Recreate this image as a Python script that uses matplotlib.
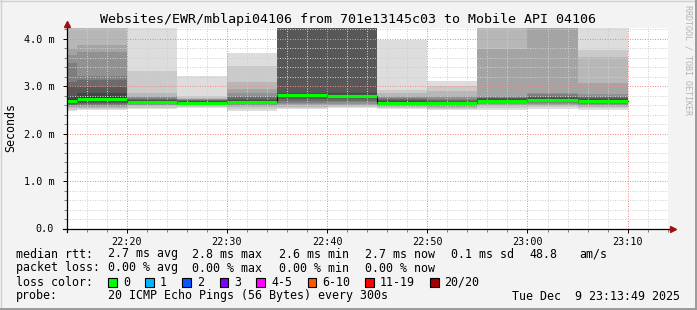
import matplotlib
matplotlib.use("Agg")
import matplotlib.pyplot as plt
import numpy as np
from matplotlib.patches import Rectangle
from matplotlib.lines import Line2D

W, H = 697, 310
MONO = "DejaVu Sans Mono"

# end of each 5 minute step, and the 20 sorted pings of that step (ms)
step_end = ["22:15", "22:20", "22:25", "22:30", "22:35", "22:40",
            "22:45", "22:50", "22:55", "23:00", "23:05", "23:10"]
pings_ms = [
    [2.47, 2.50, 2.53, 2.55, 2.57, 2.59, 2.61, 2.63, 2.65, 2.67, 2.72, 2.80, 3.00, 3.09, 3.49, 3.65, 3.81, 4.40, 4.50, 4.60],
    [2.49, 2.52, 2.54, 2.56, 2.58, 2.60, 2.62, 2.64, 2.67, 2.70, 2.76, 2.85, 2.98, 3.13, 3.22, 3.71, 3.86, 4.40, 4.50, 4.60],
    [2.51, 2.54, 2.57, 2.59, 2.61, 2.62, 2.63, 2.64, 2.65, 2.66, 2.69, 2.70, 2.71, 2.72, 2.74, 2.76, 2.80, 2.86, 3.32, 4.50],
    [2.54, 2.56, 2.58, 2.60, 2.61, 2.62, 2.63, 2.64, 2.645, 2.65, 2.66, 2.68, 2.69, 2.70, 2.71, 2.72, 2.73, 2.75, 2.79, 3.21],
    [2.47, 2.51, 2.55, 2.58, 2.60, 2.62, 2.64, 2.65, 2.66, 2.67, 2.69, 2.71, 2.73, 2.76, 2.80, 2.85, 2.93, 3.09, 3.42, 3.69],
    [2.51, 2.53, 2.56, 2.59, 2.62, 2.65, 2.68, 2.72, 2.77, 2.80, 2.83, 2.85, 4.30, 4.35, 4.40, 4.45, 4.50, 4.55, 4.60, 4.65],
    [2.54, 2.56, 2.58, 2.60, 2.63, 2.66, 2.68, 2.72, 2.75, 2.78, 2.81, 2.85, 4.30, 4.35, 4.40, 4.45, 4.50, 4.55, 4.60, 4.65],
    [2.51, 2.53, 2.55, 2.57, 2.58, 2.60, 2.61, 2.62, 2.63, 2.64, 2.66, 2.68, 2.70, 2.72, 2.74, 2.76, 2.80, 2.85, 2.92, 3.97],
    [2.50, 2.52, 2.54, 2.56, 2.58, 2.59, 2.60, 2.61, 2.62, 2.63, 2.65, 2.67, 2.69, 2.71, 2.73, 2.76, 2.80, 2.90, 3.00, 3.11],
    [2.49, 2.54, 2.57, 2.60, 2.62, 2.64, 2.65, 2.66, 2.67, 2.68, 2.71, 2.73, 2.74, 2.75, 2.76, 2.78, 3.78, 4.40, 4.50, 4.60],
    [2.52, 2.55, 2.58, 2.61, 2.63, 2.65, 2.67, 2.68, 2.69, 2.70, 2.73, 2.75, 2.77, 2.80, 2.83, 2.86, 4.35, 4.40, 4.50, 4.60],
    [2.49, 2.53, 2.56, 2.58, 2.60, 2.62, 2.64, 2.66, 2.67, 2.68, 2.71, 2.73, 2.75, 2.77, 2.80, 2.84, 3.07, 3.62, 3.76, 4.50],
]
median_ms = [2.69, 2.73, 2.67, 2.65, 2.67, 2.82, 2.80, 2.65, 2.64, 2.69, 2.71, 2.69]

x_labels = ["22:20", "22:30", "22:40", "22:50", "23:00", "23:10"]
y_ticks = [0, 1, 2, 3, 4]
y_labels = ["0.0", "1.0 m", "2.0 m", "3.0 m", "4.0 m"]

loss_names = ["0", "1", "2", "3", "4-5", "6-10", "11-19", "20/20"]
loss_colors = ["#00ff00", "#00b8ff", "#0059ff", "#7e00ff", "#ff00ff", "#ff5500", "#ff0000", "#a10000"]

title = "Websites/EWR/mblapi04106 from 701e13145c03 to Mobile API 04106"


def minutes(hhmm):
    h, m = hhmm.split(":")
    return (int(h) - 22) * 60 + int(m)


def px(x, y):
    return x / W, 1 - y / H


fig = plt.figure(figsize=(W / 100, H / 100), dpi=100, facecolor="#f3f3f3")
ax = fig.add_axes([66.7 / W, 1 - 228.5 / H, 601 / W, 200.2 / H])
ax.set_facecolor("white")

ends = np.array([minutes(s) for s in step_end], dtype=float)
edges = np.append(ends[0] - 5, ends)
pings = np.array(pings_ms)
med = np.array(median_ms)

# smoke: nested bands between ping i and ping n-1-i, darker towards the middle
half = 10
for ibot in range(1, half + 1):
    g = int(190 / half * (half - ibot)) + 50
    col = "#%02x%02x%02x" % (g, g, g)
    lo = pings[:, ibot - 1]
    hi = pings[:, 20 - ibot]
    ax.fill_between(edges, np.append(lo, lo[-1]), np.append(hi, hi[-1]),
                    step="post", color=col, lw=0, zorder=1)

ax.step(edges, np.append(med, med[-1]), where="post", color="#000000", lw=0.8, zorder=2.8)
ax.hlines(med, edges[:-1], edges[1:], colors=loss_colors[0], lw=2.3, zorder=3)

ax.set_xlim(14, 74)
ax.set_ylim(0, 4.215)
ax.set_xticks([minutes(s) for s in x_labels])
ax.set_xticklabels(x_labels, fontfamily=MONO, fontsize=7.3)
ax.set_xticks(np.arange(14, 75, 2), minor=True)
ax.set_yticks(y_ticks)
ax.set_yticklabels(y_labels, fontfamily=MONO, fontsize=7.3)
ax.set_yticks(np.arange(0, 4.21, 0.2), minor=True)

ax.set_axisbelow(False)
ax.grid(True, which="minor", color="#cfcfcf", lw=0.72, ls=(0, (1, 1.5)))
ax.grid(True, which="major", color="#f08a8a", lw=0.72, ls=(0, (1, 1.5)))
ax.tick_params(which="major", length=3, width=0.7, color="#000000", pad=3)
ax.tick_params(which="minor", length=2, width=0.7, color="#808080")
ax.tick_params(axis="y", pad=6)
for s in ax.spines.values():
    s.set_visible(False)

# axes with arrows
ax.add_line(Line2D([-0.006, 1.008], [0, 0], transform=ax.transAxes, color="black", lw=0.9, clip_on=False, zorder=4))
ax.add_line(Line2D([0, 0], [-0.015, 1.015], transform=ax.transAxes, color="black", lw=0.9, clip_on=False, zorder=4))
ax.plot([1.009], [0], marker=">", ms=4, color="#a01010", transform=ax.transAxes, clip_on=False, zorder=5)
ax.plot([0], [1.02], marker="^", ms=4, color="#a01010", transform=ax.transAxes, clip_on=False, zorder=5)

fig.text(*px(348, 19), title, ha="center", va="center", fontfamily=MONO, fontsize=9.6)
fig.text(*px(10.7, 128), "Seconds", rotation=90, ha="center", va="center", fontfamily=MONO, fontsize=8.4)
fig.text(*px(688, 60), "RRDTOOL / TOBI OETIKER", rotation=270, ha="center", va="center",
         fontfamily=MONO, fontsize=6, color="#b4b4b4")

fs = 8.4
rows = [
    (254, [(16, "median rtt:"), (107.6, "2.7 ms avg"), (192.4, "2.8 ms max"), (279, "2.6 ms min"),
           (365, "2.7 ms now"), (451, "0.1 ms sd"), (529, "48.8"), (579, "am/s")]),
    (268, [(16, "packet loss:"), (107.6, "0.00 % avg"), (192.4, "0.00 % max"), (279, "0.00 % min"),
           (365, "0.00 % now")]),
    (282, [(16, "loss color:")]),
    (296, [(16, "probe:"), (107.6, "20 ICMP Echo Pings (56 Bytes) every 300s")]),
]
for y, items in rows:
    for x, s in items:
        fig.text(*px(x, y), s, ha="left", va="center", fontfamily=MONO, fontsize=fs)
fig.text(*px(680, 296), "Tue Dec  9 23:13:49 2025", ha="right", va="center", fontfamily=MONO, fontsize=fs)

box_x = [108, 145, 182, 219.5, 256.4, 307.6, 365, 430]
lab_x = [123, 160, 197, 234, 271, 322, 380, 444]
for bx, lx, name, col in zip(box_x, lab_x, loss_names, loss_colors):
    x0, y0 = px(bx, 286.5)
    fig.patches.append(Rectangle((x0, y0), 8.5 / W, 9 / H, transform=fig.transFigure,
                                 facecolor=col, edgecolor="black", lw=0.8))
    fig.text(*px(lx, 282), name, ha="left", va="center", fontfamily=MONO, fontsize=fs)

# border of the canvas
fig.add_artist(Line2D([0.5 / W, 0.5 / W], [0, 1], color="#d0d0d0", lw=1))
fig.add_artist(Line2D([0, 1], [1 - 0.5 / H, 1 - 0.5 / H], color="#d0d0d0", lw=1))
fig.add_artist(Line2D([1 - 1 / W, 1 - 1 / W], [0, 1], color="#9a9a9a", lw=1.4))
fig.add_artist(Line2D([0, 1], [1 / H, 1 / H], color="#9a9a9a", lw=1.4))

fig.savefig("out.png", dpi=100, facecolor=fig.get_facecolor())
